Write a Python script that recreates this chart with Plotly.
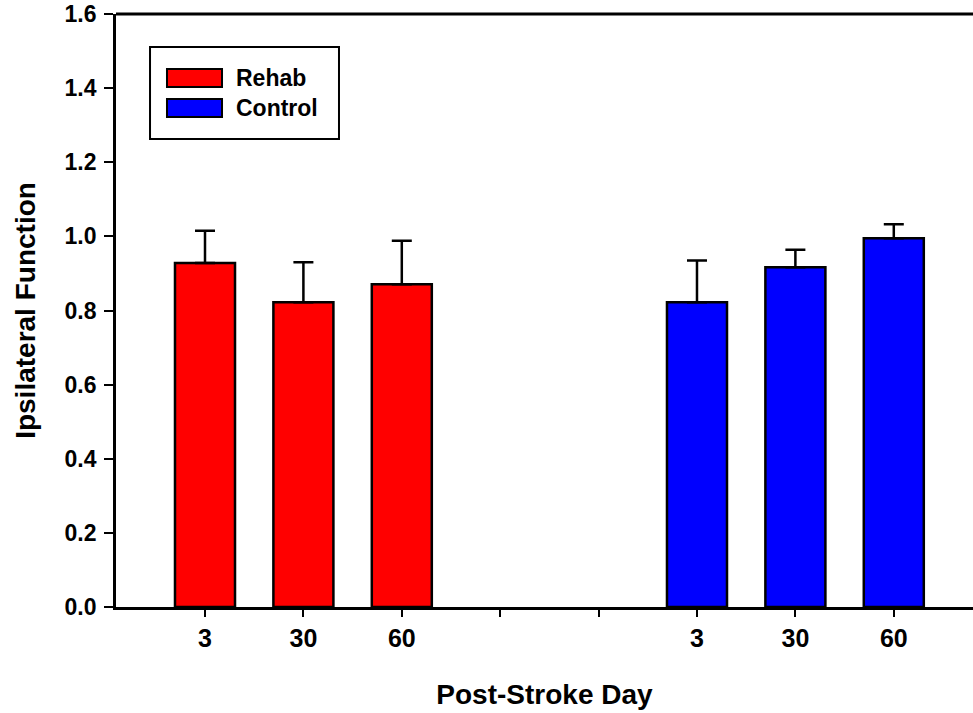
import plotly.graph_objects as go

# Data
days = ["3", "30", "60"]
rehab_mean = [0.928, 0.822, 0.871]
rehab_err = [0.087, 0.108, 0.117]
control_mean = [0.822, 0.917, 0.995]
control_err = [0.113, 0.047, 0.038]

group_names = ["Rehab", "Control"]
group_colors = ["#ff0000", "#0000ff"]

# Slots on the x axis: 3 bars, 2 empty slots, 3 bars
rehab_x = [1, 2, 3]
control_x = [6, 7, 8]
tick_vals = [1, 2, 3, 4, 5, 6, 7, 8]
tick_text = days + ["", ""] + days

FONT = "Arial, Liberation Sans, sans-serif"

fig = go.Figure()

for name, color, xs, ys, errs in [
    (group_names[0], group_colors[0], rehab_x, rehab_mean, rehab_err),
    (group_names[1], group_colors[1], control_x, control_mean, control_err),
]:
    fig.add_trace(go.Bar(
        x=xs, y=ys, name=name, width=0.61,
        marker=dict(color=color, line=dict(color="black", width=2.5)),
        error_y=dict(type="data", array=errs, arrayminus=[0] * len(errs),
                     symmetric=False, color="black", thickness=2.5, width=10),
        showlegend=False,
    ))

# Top border of the frame (paper refs so it is not clipped)
shapes = [dict(type="line", xref="paper", yref="paper", x0=0, x1=1, y0=1, y1=1,
               line=dict(color="black", width=2.8))]

# Hand-drawn legend box with wide swatches
shapes.append(dict(type="rect", xref="paper", yref="paper",
                   x0=0.0397, x1=0.2602, y0=0.7892, y1=0.9444,
                   line=dict(color="black", width=2), fillcolor="white"))
swatch_y = [(0.8769, 0.9073), (0.8263, 0.8567)]
annotations = []
for (y0, y1), name, color in zip(swatch_y, group_names, group_colors):
    shapes.append(dict(type="rect", xref="paper", yref="paper",
                       x0=0.0595, x1=0.1237, y0=y0, y1=y1,
                       line=dict(color="black", width=2), fillcolor=color))
    annotations.append(dict(xref="paper", yref="paper", x=0.138, y=(y0 + y1) / 2,
                            text="<b>%s</b>" % name, showarrow=False,
                            xanchor="left", yanchor="middle",
                            font=dict(family=FONT, size=23, color="black")))

fig.update_layout(
    width=973, height=713,
    margin=dict(l=116, r=0, t=14, b=106),
    paper_bgcolor="white", plot_bgcolor="white",
    font=dict(family=FONT, color="black"),
    shapes=shapes, annotations=annotations,
    xaxis=dict(
        range=[0.0955, 8.805], tickvals=tick_vals, ticktext=tick_text,
        ticks="outside", ticklen=7, tickwidth=1.5, tickcolor="black",
        ticklabelstandoff=0,
        showline=True, linecolor="black", linewidth=2.8, showgrid=False,
        zeroline=False, tickfont=dict(family=FONT, size=25, weight="bold"),
        title=dict(text="<b>Post-Stroke Day</b>", standoff=34,
                   font=dict(family=FONT, size=28)),
    ),
    yaxis=dict(
        range=[0, 1.6], tickvals=[0, 0.2, 0.4, 0.6, 0.8, 1.0, 1.2, 1.4, 1.6],
        tickformat=".1f", ticks="outside", ticklen=9, tickwidth=1.5,
        tickcolor="black", showline=True, linecolor="black", linewidth=2.8,
        showgrid=False, zeroline=False, ticklabelstandoff=3,
        tickfont=dict(family=FONT, size=23, weight="bold"),
        title=dict(text="<b>Ipsilateral Function</b>", standoff=21,
                   font=dict(family=FONT, size=28)),
    ),
)

# drop the default page margin so the figure sits at the window's corner
fig.write_html("out.html", config={"displayModeBar": False},
               post_script="document.body.style.margin='0';"
                           "document.body.style.overflow='hidden';")
